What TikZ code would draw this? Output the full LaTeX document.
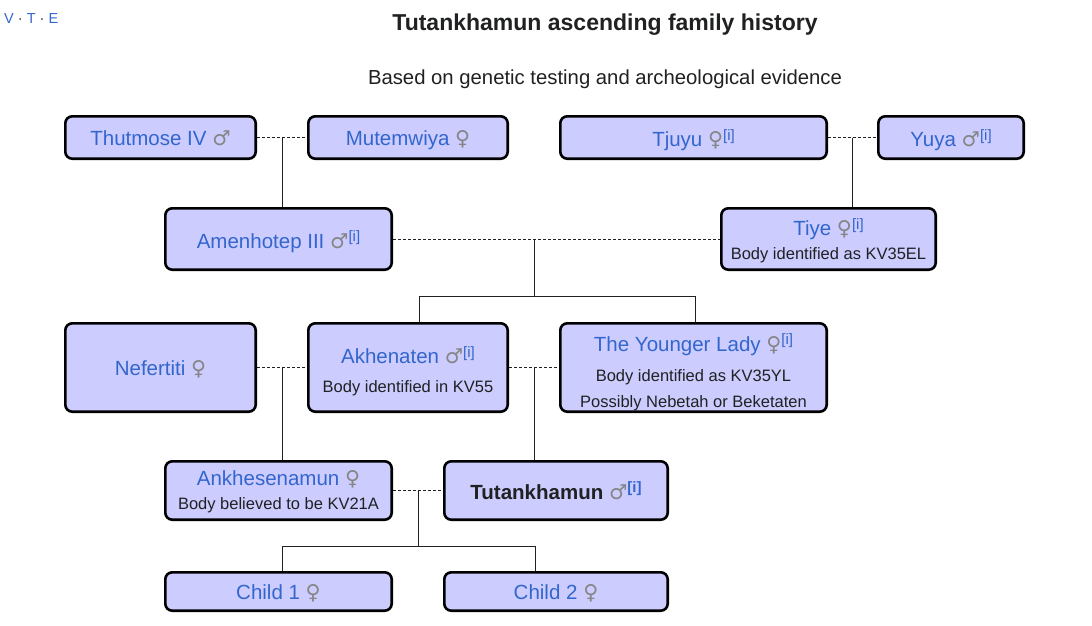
\documentclass[tikz,border=0pt]{standalone}
\usepackage{fontspec}
\setmainfont{Liberation Sans}
\newfontfamily\symf{DejaVu Sans}
\usetikzlibrary{calc}
\definecolor{boxfill}{HTML}{CCCCFF}
\definecolor{namecol}{HTML}{3366CC}
\definecolor{txt}{HTML}{202122}
\definecolor{symcol}{HTML}{858585}
\newcommand\msym{{\symf\color{symcol}♂}}
\newcommand\fsym{{\symf\color{symcol}♀}}
\newcommand\supi{\raisebox{6.5pt}{\fontsize{15}{17}\selectfont\color{namecol}[i]}}
\newcommand\nm[1]{{\fontsize{20.5}{24}\selectfont\color{namecol}#1}}
\newcommand\ptext[2][3pt]{\raisebox{-#1}[\height][\depth]{\begin{tabular}{@{}c@{}}#2\end{tabular}}}
\tikzset{
  person/.style={draw=black, line width=2.6pt, rounded corners=7pt, fill=boxfill,
    inner sep=0pt, text=txt, font=\fontsize{16.5}{20}\selectfont},
  marr/.style={line width=0.9pt, dash pattern=on 3pt off 2pt, draw=txt},
  desc/.style={line width=0.95pt, draw=txt},
}
\begin{document}
\begin{tikzpicture}[x=1pt,y=-1pt]
\fill[white] (0,0) rectangle (1092,625);
\useasboundingbox (0,0) rectangle (1092,625);

\node[anchor=base west, font=\fontsize{14.5}{16}\selectfont, text=txt, inner sep=0pt] (vte) at (4,23)
  {{\color{namecol}V} · {\color{namecol}T} · {\color{namecol}E}};
\node[anchor=base, font=\fontsize{23}{28}\selectfont\bfseries, text=txt] (title) at (605,30)
  {Tutankhamun ascending family history};
\node[anchor=base, font=\fontsize{20.3}{24}\selectfont, text=txt] (subtitle) at (605,84)
  {Based on genetic testing and archeological evidence};

% row 1
\node[person, minimum width=190.4pt, minimum height=42.4pt] (thut) at (160.5,137.5) {\ptext[3.5pt]{\nm{Thutmose IV \msym}}};
\node[person, minimum width=199.4pt, minimum height=42.4pt] (mutem) at (408,137.5) {\ptext[3.5pt]{\nm{Mutemwiya \fsym}}};
\node[person, minimum width=266.4pt, minimum height=42.4pt] (tjuyu) at (693.5,137.5) {\ptext[3.5pt]{\nm{Tjuyu \fsym\supi}}};
\node[person, minimum width=145.4pt, minimum height=42.4pt] (yuya) at (951,137.5) {\ptext[3.5pt]{\nm{Yuya \msym\supi}}};
% row 2
\node[person, minimum width=226.4pt, minimum height=61.4pt] (amen) at (278.5,239) {\ptext[3.5pt]{\nm{Amenhotep III \msym\supi}}};
\node[person, minimum width=214.4pt, minimum height=61.4pt] (tiye) at (828.5,239)
  {\ptext[3pt]{\nm{Tiye \fsym\supi}\\[4pt] Body identified as KV35EL}};
% row 3
\node[person, minimum width=190.4pt, minimum height=88.4pt] (nef) at (160.5,367.5) {\ptext[3.5pt]{\nm{Nefertiti \fsym}}};
\node[person, minimum width=199.4pt, minimum height=88.4pt] (akh) at (408,367.5)
  {\ptext[5pt]{\nm{Akhenaten \msym\supi}\\[9pt] Body identified in KV55}};
\node[person, minimum width=266.4pt, minimum height=88.4pt] (yl) at (693.5,367.5)
  {\ptext[6pt]{\nm{The Younger Lady \fsym\supi}\\[10pt] Body identified as KV35YL\\[6pt] Possibly Nebetah or Beketaten}};
% row 4
\node[person, minimum width=226.4pt, minimum height=58.4pt] (ankh) at (278.5,490.5)
  {\ptext[2pt]{\nm{Ankhesenamun \fsym}\\[4pt] Body believed to be KV21A}};
\node[person, minimum width=223.4pt, minimum height=58.4pt] (tut) at (556,490.5)
  {\ptext[3pt]{{\fontsize{20.5}{24}\selectfont\bfseries Tutankhamun \msym\supi}}};
% row 5
\node[person, minimum width=226.4pt, minimum height=38.4pt] (c1) at (278.5,591.5) {\ptext[3pt]{\nm{Child 1 \fsym}}};
\node[person, minimum width=223.4pt, minimum height=38.4pt] (c2) at (556,591.5) {\ptext[3pt]{\nm{Child 2 \fsym}}};

% marriages
\draw[marr] (thut.east) -- (mutem.west);
\draw[marr] (tjuyu.east) -- (yuya.west);
\draw[marr] (amen.east) -- (tiye.west);
\draw[marr] (nef.east) -- (akh.west);
\draw[marr] (akh.east) -- (yl.west);
\draw[marr] (ankh.east) -- (tut.west);

% descent
\coordinate (m1) at ($(thut.east)!0.5!(mutem.west)$);
\draw[desc] (m1) -- (m1 |- amen.north);
\coordinate (m2) at ($(tjuyu.east)!0.5!(yuya.west)$);
\draw[desc] (m2) -- (m2 |- tiye.north);

\coordinate (j1) at (534,296);
\coordinate (j1l) at (419,296);
\coordinate (j1r) at (695,296);
\draw[desc] (j1 |- amen.east) -- (j1);
\draw[desc] (j1l |- akh.north) -- (j1l) -- (j1r) -- (j1r |- yl.north);

\coordinate (m4) at ($(nef.east)!0.5!(akh.west)$);
\draw[desc] (m4) -- (m4 |- ankh.north);
\coordinate (m5) at ($(akh.east)!0.5!(yl.west)$);
\draw[desc] (m5) -- (m5 |- tut.north);

\coordinate (m6) at ($(ankh.east)!0.5!(tut.west)$);
\coordinate (j2) at (418,546);
\coordinate (j2l) at (282,546);
\coordinate (j2r) at (535,546);
\draw[desc] (m6) -- (j2);
\draw[desc] (j2l |- c1.north) -- (j2l) -- (j2r) -- (j2r |- c2.north);
\end{tikzpicture}
\end{document}
